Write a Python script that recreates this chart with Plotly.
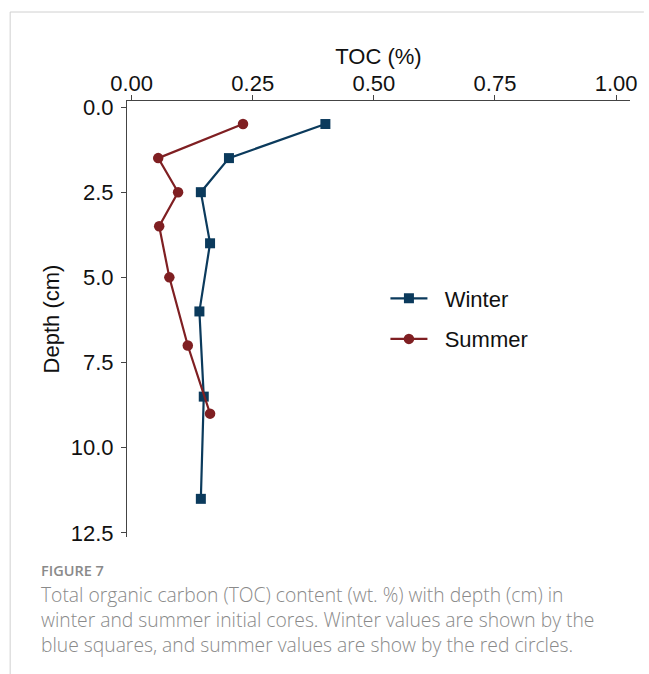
import plotly.graph_objects as go

winter_toc = [0.40, 0.201, 0.143, 0.162, 0.140, 0.149, 0.143]
winter_depth = [0.5, 1.5, 2.5, 4.0, 6.0, 8.5, 11.5]
summer_toc = [0.230, 0.055, 0.096, 0.057, 0.078, 0.116, 0.162]
summer_depth = [0.5, 1.5, 2.5, 3.5, 5.0, 7.0, 9.0]
series_names = ["Winter", "Summer"]
x_ticks = [0, 0.25, 0.5, 0.75, 1.0]
x_ticklabels = ["0.00", "0.25", "0.50", "0.75", "1.00"]
y_ticks = [0, 2.5, 5, 7.5, 10, 12.5]
y_ticklabels = ["0.0", "2.5", "5.0", "7.5", "10.0", "12.5"]

WIN = "#0b3a5c"
SUM = "#7f1f22"
W, H = 649, 674
L, R, T, B = 127, 14, 101, 137
pw, ph = W - L - R, H - T - B

def px(x):
    return (x - L) / pw

def py(y):
    return 1 - (y - T) / ph

GAP = "\u00a0\u00a0"

fig = go.Figure()
fig.add_trace(go.Scatter(x=winter_toc, y=winter_depth, mode="lines+markers", name=GAP + series_names[0],
                         legendgroup="w",
                         line=dict(color=WIN, width=2.2),
                         marker=dict(symbol="square", size=10, color=WIN)))
fig.add_trace(go.Scatter(x=summer_toc, y=summer_depth, mode="lines+markers", name=GAP + series_names[1],
                         legendgroup="s",
                         line=dict(color=SUM, width=2.2),
                         marker=dict(symbol="circle", size=10.5, color=SUM)))

FONT = "Liberation Sans, Arial"
axis_font = dict(family=FONT, size=22, color="#111")
fig.update_layout(
    width=W, height=H, autosize=False,
    margin=dict(l=L, r=R, t=T, b=B),
    paper_bgcolor="white", plot_bgcolor="white",
    font=dict(family=FONT, color="#111"),
    xaxis=dict(side="top", range=[-0.0094, 1.0286], tickvals=x_ticks, ticktext=x_ticklabels,
               showgrid=False, zeroline=False, showline=True, linecolor="#444", linewidth=1.2,
               ticks="outside", ticklen=5, tickcolor="#444", tickfont=axis_font,
               ticklabelstandoff=-5,
               title=dict(text="TOC (%)", font=axis_font, standoff=0)),
    yaxis=dict(range=[12.62, -0.176], tickvals=y_ticks, ticktext=y_ticklabels,
               showgrid=False, zeroline=False, showline=True, linecolor="#444", linewidth=1.2,
               ticks="outside", ticklen=5, tickcolor="#444", tickfont=axis_font,
               ticklabelstandoff=3,
               title=dict(text="Depth (cm)", font=axis_font, standoff=4)),
    legend=dict(x=px(388), y=py(319), xanchor="left", yanchor="middle",
                font=dict(family=FONT, size=22, color="#111"),
                bgcolor="rgba(0,0,0,0)", tracegroupgap=9, itemwidth=37),
    showlegend=True,
)

cap_font = dict(family="Open Sans", size=19.3, color="#8a8a8a", weight=300)
fig.add_annotation(xref="paper", yref="paper", x=px(38), y=py(570.5), xanchor="left", yanchor="middle",
                   text="FIGURE 7", showarrow=False,
                   font=dict(family="Open Sans", size=14.5, color="#8a8a8a", weight=600))
cap_lines = ["Total organic carbon (TOC) content (wt. %) with depth (cm) in",
             "winter and summer initial cores. Winter values are shown by the",
             "blue squares, and summer values are show by the red circles."]
fig.add_annotation(xref="paper", yref="paper", x=px(38), y=py(619.5),
                   xanchor="left", yanchor="middle", align="left", text="<br>".join(cap_lines),
                   showarrow=False, font=cap_font)

fig.add_shape(type="line", xref="paper", yref="paper", x0=px(9), x1=px(9), y0=py(12), y1=py(674),
              line=dict(color="#d0d0d0", width=1))
fig.add_shape(type="line", xref="paper", yref="paper", x0=px(9), x1=px(649), y0=py(12), y1=py(12),
              line=dict(color="#d0d0d0", width=1))

fig.write_html("out.html")
